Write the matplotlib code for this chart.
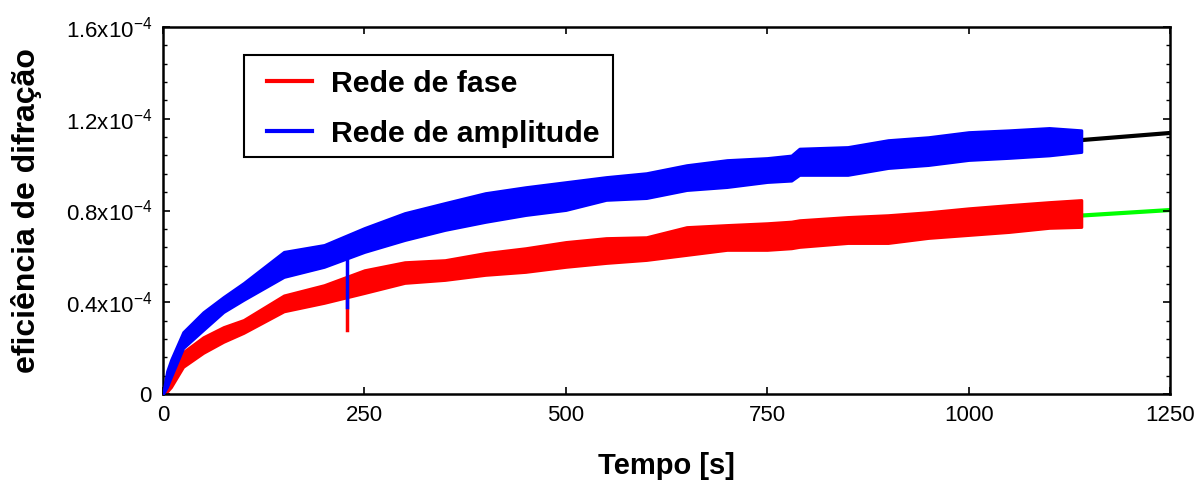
import matplotlib
matplotlib.use("Agg")
import matplotlib.pyplot as plt
from matplotlib.ticker import MultipleLocator, FixedLocator
from matplotlib.patches import Rectangle
from matplotlib.transforms import blended_transform_factory

plt.rcParams['font.family'] = ['Liberation Sans', 'DejaVu Sans']
plt.rcParams['mathtext.default'] = 'regular'

# time axis for the band envelopes (s)
t_env = [0, 5, 10, 25, 50, 75, 100, 150, 200, 250, 300, 350, 400, 450, 500, 550,
         600, 650, 700, 750, 780, 790, 850, 900, 950, 1000, 1050, 1100, 1140]
# Rede de amplitude (blue) envelope, units of 1e-4
amp_upper = [0, 0.10, 0.15, 0.27, 0.357, 0.423, 0.484, 0.62, 0.65, 0.724, 0.789, 0.833, 0.876, 0.902, 0.924, 0.946,
             0.963, 0.998, 1.02, 1.029, 1.04, 1.07, 1.077, 1.107, 1.12, 1.142, 1.15, 1.16, 1.15]
amp_lower = [0, 0.03, 0.074, 0.20, 0.279, 0.357, 0.41, 0.51, 0.554, 0.619, 0.671, 0.715, 0.75, 0.78, 0.802, 0.846,
             0.854, 0.889, 0.902, 0.924, 0.93, 0.955, 0.955, 0.985, 0.998, 1.02, 1.029, 1.04, 1.055]
# Rede de fase (red) envelope
fase_upper = [0, 0.06, 0.105, 0.183, 0.248, 0.292, 0.323, 0.43, 0.475, 0.54, 0.575, 0.584, 0.615, 0.636, 0.663, 0.68,
              0.684, 0.728, 0.737, 0.745, 0.752, 0.758, 0.772, 0.78, 0.793, 0.81, 0.824, 0.837, 0.846]
fase_lower = [0, 0.01, 0.03, 0.118, 0.179, 0.227, 0.266, 0.36, 0.397, 0.44, 0.484, 0.497, 0.519, 0.532, 0.554, 0.571,
              0.584, 0.606, 0.628, 0.628, 0.635, 0.641, 0.658, 0.658, 0.68, 0.693, 0.706, 0.724, 0.728]
# glitch at t ~ 229 s
spike_t = 229
amp_spike = [0.63, 0.379]
fase_spike = [0.47, 0.279]

# fitted curves
t_fit = [0, 10, 25, 50, 100, 200, 300, 500, 750, 1000, 1140, 1250]
amp_fit = [0, 0.11, 0.235, 0.32, 0.45, 0.60, 0.73, 0.86, 0.98, 1.08, 1.107, 1.138]
fase_fit = [0, 0.06, 0.14, 0.21, 0.295, 0.44, 0.53, 0.61, 0.69, 0.75, 0.778, 0.802]

xticks = [0, 250, 500, 750, 1000, 1250]
yticks = [0, 0.4, 0.8, 1.2, 1.6]
ytick_labels = ['0', r'0.4x10$^{-4}$', r'0.8x10$^{-4}$', r'1.2x10$^{-4}$', r'1.6x10$^{-4}$']

W, H = 1199, 483
fig = plt.figure(figsize=(W/100, H/100), dpi=100)
ax = fig.add_axes([163/W, 1-394/H, (1170-163)/W, (394-27)/H])

ax.plot(t_fit, amp_fit, color='black', lw=3, zorder=1)
ax.plot(t_fit, fase_fit, color='#00ff00', lw=3, zorder=1)

ax.fill_between(t_env, fase_lower, fase_upper, color='#ff0000', lw=2.0, edgecolor='#ff0000', zorder=2)
ax.plot([spike_t, spike_t], fase_spike, color='#ff0000', lw=2.5, zorder=2)
ax.fill_between(t_env, amp_lower, amp_upper, color='#0000ff', lw=2.0, edgecolor='#0000ff', zorder=3)
ax.plot([spike_t, spike_t], amp_spike, color='#0000ff', lw=2.5, zorder=3)

# legend frame drawn separately
fig.patches.append(Rectangle((244/W, 1-157/H), (613-244)/W, (157-55)/H, transform=fig.transFigure,
                             facecolor='white', edgecolor='black', lw=1.5, zorder=5))
h1, = ax.plot([], [], color='#ff0000', lw=3, label='Rede de fase')
h2, = ax.plot([], [], color='#0000ff', lw=3, label='Rede de amplitude')
leg = fig.legend(handles=[h1, h2], loc='upper left', bbox_to_anchor=(267/W, 1-70/H),
                 bbox_transform=fig.transFigure, borderaxespad=0, frameon=False,
                 handlelength=1.5, handletextpad=0.62,
                 labelspacing=0.72, borderpad=0,
                 prop={'weight': 'bold', 'size': 21.8})
leg.set_zorder(6)

ax.set_xlim(0, 1250)
ax.set_ylim(0, 1.6)
ax.xaxis.set_major_locator(FixedLocator(xticks))
ax.yaxis.set_major_locator(FixedLocator(yticks))
ax.yaxis.set_minor_locator(MultipleLocator(0.08))
ax.set_yticklabels(ytick_labels)
ax.tick_params(axis='both', which='both', direction='in', top=True, right=True, labelsize=16)
ax.tick_params(axis='both', which='major', length=5, width=1.2)
ax.tick_params(axis='both', which='minor', length=3, width=1.0)
ax.tick_params(axis='x', pad=8)
ax.tick_params(axis='y', pad=8)
for s in ax.spines.values():
    s.set_linewidth(1.8)

ax.set_xlabel('Tempo [s]', fontsize=21, fontweight='bold', labelpad=19)
ax.set_ylabel('eficiência de difração', fontsize=23, fontweight='bold')
ax.yaxis.set_label_coords(42/W, 0.5, transform=blended_transform_factory(fig.transFigure, ax.transAxes))

fig.savefig('out.png', dpi=100)
